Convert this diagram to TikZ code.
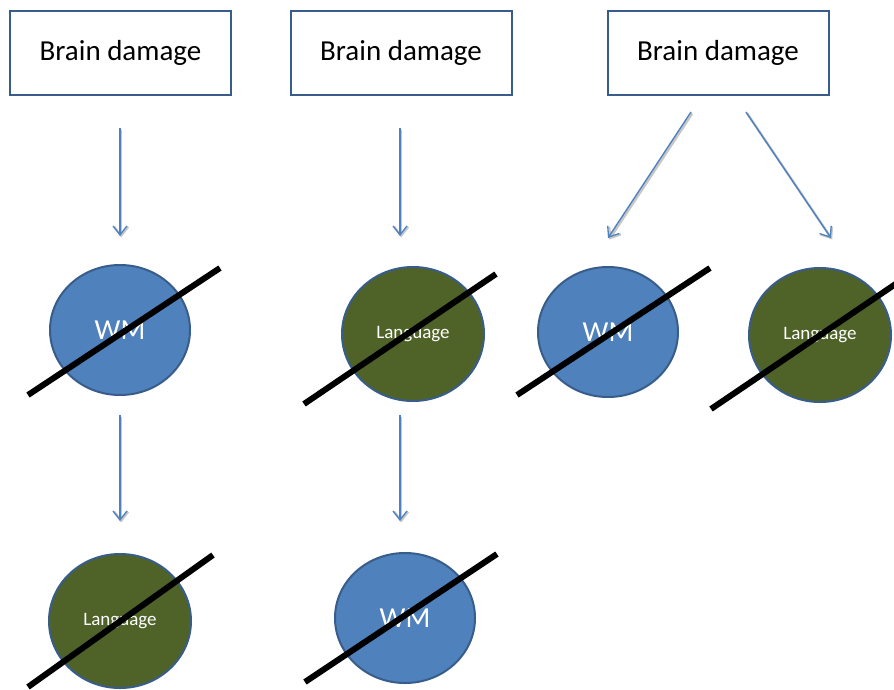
\documentclass[tikz,border=0pt]{standalone}
\usepackage{fontspec}
\setmainfont{Carlito}
\usetikzlibrary{shapes.geometric,arrows.meta}
\definecolor{boxline}{HTML}{385D8A}
\definecolor{wmfill}{HTML}{4F81BD}
\definecolor{langfill}{HTML}{4F6228}
\definecolor{arrowblue}{HTML}{4F81BD}
\tikzset{
  damagebox/.style={draw=boxline, line width=2pt, fill=white,
    minimum width=221pt, minimum height=84pt, inner sep=0pt,
    font=\fontsize{29}{34}\selectfont},
  wmnode/.style={ellipse, draw=boxline, line width=2pt, fill=wmfill,
    minimum width=140pt, minimum height=130pt, inner sep=0pt,
    text=white, font=\fontsize{29}{34}\selectfont},
  langnode/.style={ellipse, draw=boxline, line width=2pt, fill=langfill,
    minimum width=142pt, minimum height=134pt, inner sep=0pt,
    text=white, font=\fontsize{19}{23}\selectfont},
  strike/.style={line width=6pt, black},
  flow/.style={draw=arrowblue, line width=1.4pt,
    -{Straight Barb[length=9pt,width=14pt,line width=1.3pt]}},
  flowshadow/.style={draw=black!22, line width=2.4pt,
    -{Straight Barb[length=9pt,width=14pt,line width=2.2pt]}}
}
\begin{document}
\begin{tikzpicture}[x=1pt,y=-1pt]
  \useasboundingbox (0,0) rectangle (894,689);
  \fill[white] (0,0) rectangle (894,689);

  % top boxes
  \node[damagebox] (b1) at (120.5,53) {Brain damage};
  \node[damagebox] (b2) at (401,53) {Brain damage};
  \node[damagebox] (b3) at (718,53) {Brain damage};

  % impaired abilities
  \node[wmnode]   (wm1)   at (120,330) {WM};
  \node[langnode] (lang1) at (120,621) {Language};
  \node[langnode] (lang2) at (413,334) {Language};
  \node[wmnode]   (wm2)   at (405,618) {WM};
  \node[wmnode]   (wm3)   at (608,332) {WM};
  \node[langnode] (lang3) at (820,335) {Language};

  % arrow end points
  \coordinate (a1s) at (120,128); \coordinate (a1e) at (120,236);
  \coordinate (a2s) at (120,415); \coordinate (a2e) at (120,521);
  \coordinate (a3s) at (400,128); \coordinate (a3e) at (400,236);
  \coordinate (a4s) at (400,415); \coordinate (a4e) at (400,521);
  \coordinate (a5s) at (691,112); \coordinate (a5e) at (608,238);
  \coordinate (a6s) at (746,112); \coordinate (a6e) at (831,238);

  % soft shadows under the arrows
  \foreach \s/\e in {a1s/a1e,a2s/a2e,a3s/a3e,a4s/a4e,a5s/a5e,a6s/a6e}
    \draw[flowshadow, transform canvas={shift={(1.2pt,-1.5pt)}}] (\s) -- (\e);
  \foreach \s/\e in {a1s/a1e,a2s/a2e,a3s/a3e,a4s/a4e,a5s/a5e,a6s/a6e}
    \draw[flow] (\s) -- (\e);

  % strike-through bars
  \draw[strike] (28,395) -- (220,268);
  \draw[strike] (28,687) -- (213,555);
  \draw[strike] (304,404) -- (496,274);
  \draw[strike] (305,682) -- (497,554);
  \draw[strike] (517,395) -- (710,268);
  \draw[strike] (711,409) -- (900,281);
\end{tikzpicture}
\end{document}
